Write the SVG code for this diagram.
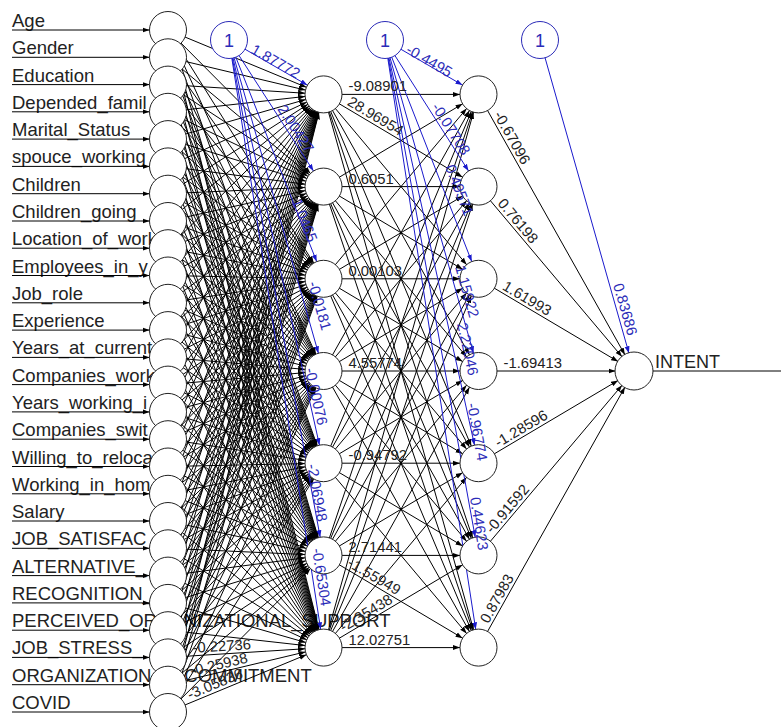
<svg xmlns="http://www.w3.org/2000/svg" width="781" height="727" viewBox="0 0 781 727">
<style>
.lbl{font-family:"Liberation Sans",Arial,sans-serif;font-size:18.5px;fill:#222}
.w{font-family:"Liberation Sans",Arial,sans-serif;font-size:14.8px;fill:#222}
.wb{font-family:"Liberation Sans",Arial,sans-serif;font-size:14.8px;fill:#2b2bb8}
.syn path{stroke:#000;stroke-width:1;fill:none;marker-end:url(#ah)}
.bsyn path{stroke:#1a1acc;stroke-width:1;fill:none;marker-end:url(#ab)}
.nd circle{fill:#fff;stroke:#222;stroke-width:1}
.bn circle{fill:#fff;stroke:#2b2bb8;stroke-width:1}
.bn text{font-family:"Liberation Sans",Arial,sans-serif;font-size:18px;fill:#2b2bb8;text-anchor:middle}
</style>
<defs>
<!-- arrowhead tip sits 18.5 units before the line end, i.e. on the target circle -->
<marker id="ah" viewBox="0 0 26 6" refX="25.5" refY="3" markerWidth="26" markerHeight="6" markerUnits="userSpaceOnUse" orient="auto"><path d="M0 0.5L7 3L0 5.5Z" fill="#000"/></marker>
<marker id="ab" viewBox="0 0 26 6" refX="25.5" refY="3" markerWidth="26" markerHeight="6" markerUnits="userSpaceOnUse" orient="auto"><path d="M0 0.5L7 3L0 5.5Z" fill="#1a1acc"/></marker>
</defs>
<rect width="781" height="727" fill="#fff"/>

<!-- input variable names (drawn first, lines and nodes cover them) -->
<g id="input-labels" class="lbl">
<text x="12" y="27">Age</text>
<text x="12" y="54.3">Gender</text>
<text x="12" y="81.6">Education</text>
<text x="12" y="108.8">Depended_famil</text>
<text x="12" y="136.1">Marital_Status</text>
<text x="12" y="163.4">spouce_working</text>
<text x="12" y="190.7">Children</text>
<text x="12" y="218">Children_going</text>
<text x="12" y="245.2">Location_of_work</text>
<text x="12" y="272.5">Employees_in_y</text>
<text x="12" y="299.8">Job_role</text>
<text x="12" y="327.1">Experience</text>
<text x="12" y="354.4">Years_at_current</text>
<text x="12" y="381.6">Companies_work</text>
<text x="12" y="408.9">Years_working_i</text>
<text x="12" y="436.2">Companies_swit</text>
<text x="12" y="463.5">Willing_to_reloca</text>
<text x="12" y="490.8">Working_in_hom</text>
<text x="12" y="518">Salary</text>
<text x="12" y="545.3">JOB_SATISFAC</text>
<text x="12" y="572.6">ALTERNATIVE_</text>
<text x="12" y="599.9">RECOGNITION_</text>
<text x="12" y="627.2">PERCEIVED_ORGANIZATIONAL_SUPPORT</text>
<text x="12" y="654.4">JOB_STRESS_</text>
<text x="12" y="681.7">ORGANIZATIONAL_COMMITMENT</text>
<text x="12" y="709">COVID</text>
</g>

<g id="connectors">
<g class="syn">
<!-- entry arrows -->
<path d="M12 30H168"/><path d="M12 57.3H168"/><path d="M12 84.6H168"/><path d="M12 111.8H168"/><path d="M12 139.1H168"/><path d="M12 166.4H168"/><path d="M12 193.7H168"/><path d="M12 221H168"/><path d="M12 248.2H168"/><path d="M12 275.5H168"/><path d="M12 302.8H168"/><path d="M12 330.1H168"/><path d="M12 357.4H168"/><path d="M12 384.6H168"/><path d="M12 411.9H168"/><path d="M12 439.2H168"/><path d="M12 466.5H168"/><path d="M12 493.8H168"/><path d="M12 521H168"/><path d="M12 548.3H168"/><path d="M12 575.6H168"/><path d="M12 602.9H168"/><path d="M12 630.2H168"/><path d="M12 657.4H168"/><path d="M12 684.7H168"/><path d="M12 712H168"/>
<!-- input layer to hidden layer 1 -->
<path d="M168 30L323.5 94.4"/><path d="M168 30L323.5 186.6"/><path d="M168 30L323.5 278.8"/><path d="M168 30L323.5 371"/><path d="M168 30L323.5 463.2"/><path d="M168 30L323.5 555.4"/><path d="M168 30L323.5 647.6"/>
<path d="M168 57.3L323.5 94.4"/><path d="M168 57.3L323.5 186.6"/><path d="M168 57.3L323.5 278.8"/><path d="M168 57.3L323.5 371"/><path d="M168 57.3L323.5 463.2"/><path d="M168 57.3L323.5 555.4"/><path d="M168 57.3L323.5 647.6"/>
<path d="M168 84.6L323.5 94.4"/><path d="M168 84.6L323.5 186.6"/><path d="M168 84.6L323.5 278.8"/><path d="M168 84.6L323.5 371"/><path d="M168 84.6L323.5 463.2"/><path d="M168 84.6L323.5 555.4"/><path d="M168 84.6L323.5 647.6"/>
<path d="M168 111.8L323.5 94.4"/><path d="M168 111.8L323.5 186.6"/><path d="M168 111.8L323.5 278.8"/><path d="M168 111.8L323.5 371"/><path d="M168 111.8L323.5 463.2"/><path d="M168 111.8L323.5 555.4"/><path d="M168 111.8L323.5 647.6"/>
<path d="M168 139.1L323.5 94.4"/><path d="M168 139.1L323.5 186.6"/><path d="M168 139.1L323.5 278.8"/><path d="M168 139.1L323.5 371"/><path d="M168 139.1L323.5 463.2"/><path d="M168 139.1L323.5 555.4"/><path d="M168 139.1L323.5 647.6"/>
<path d="M168 166.4L323.5 94.4"/><path d="M168 166.4L323.5 186.6"/><path d="M168 166.4L323.5 278.8"/><path d="M168 166.4L323.5 371"/><path d="M168 166.4L323.5 463.2"/><path d="M168 166.4L323.5 555.4"/><path d="M168 166.4L323.5 647.6"/>
<path d="M168 193.7L323.5 94.4"/><path d="M168 193.7L323.5 186.6"/><path d="M168 193.7L323.5 278.8"/><path d="M168 193.7L323.5 371"/><path d="M168 193.7L323.5 463.2"/><path d="M168 193.7L323.5 555.4"/><path d="M168 193.7L323.5 647.6"/>
<path d="M168 221L323.5 94.4"/><path d="M168 221L323.5 186.6"/><path d="M168 221L323.5 278.8"/><path d="M168 221L323.5 371"/><path d="M168 221L323.5 463.2"/><path d="M168 221L323.5 555.4"/><path d="M168 221L323.5 647.6"/>
<path d="M168 248.2L323.5 94.4"/><path d="M168 248.2L323.5 186.6"/><path d="M168 248.2L323.5 278.8"/><path d="M168 248.2L323.5 371"/><path d="M168 248.2L323.5 463.2"/><path d="M168 248.2L323.5 555.4"/><path d="M168 248.2L323.5 647.6"/>
<path d="M168 275.5L323.5 94.4"/><path d="M168 275.5L323.5 186.6"/><path d="M168 275.5L323.5 278.8"/><path d="M168 275.5L323.5 371"/><path d="M168 275.5L323.5 463.2"/><path d="M168 275.5L323.5 555.4"/><path d="M168 275.5L323.5 647.6"/>
<path d="M168 302.8L323.5 94.4"/><path d="M168 302.8L323.5 186.6"/><path d="M168 302.8L323.5 278.8"/><path d="M168 302.8L323.5 371"/><path d="M168 302.8L323.5 463.2"/><path d="M168 302.8L323.5 555.4"/><path d="M168 302.8L323.5 647.6"/>
<path d="M168 330.1L323.5 94.4"/><path d="M168 330.1L323.5 186.6"/><path d="M168 330.1L323.5 278.8"/><path d="M168 330.1L323.5 371"/><path d="M168 330.1L323.5 463.2"/><path d="M168 330.1L323.5 555.4"/><path d="M168 330.1L323.5 647.6"/>
<path d="M168 357.4L323.5 94.4"/><path d="M168 357.4L323.5 186.6"/><path d="M168 357.4L323.5 278.8"/><path d="M168 357.4L323.5 371"/><path d="M168 357.4L323.5 463.2"/><path d="M168 357.4L323.5 555.4"/><path d="M168 357.4L323.5 647.6"/>
<path d="M168 384.6L323.5 94.4"/><path d="M168 384.6L323.5 186.6"/><path d="M168 384.6L323.5 278.8"/><path d="M168 384.6L323.5 371"/><path d="M168 384.6L323.5 463.2"/><path d="M168 384.6L323.5 555.4"/><path d="M168 384.6L323.5 647.6"/>
<path d="M168 411.9L323.5 94.4"/><path d="M168 411.9L323.5 186.6"/><path d="M168 411.9L323.5 278.8"/><path d="M168 411.9L323.5 371"/><path d="M168 411.9L323.5 463.2"/><path d="M168 411.9L323.5 555.4"/><path d="M168 411.9L323.5 647.6"/>
<path d="M168 439.2L323.5 94.4"/><path d="M168 439.2L323.5 186.6"/><path d="M168 439.2L323.5 278.8"/><path d="M168 439.2L323.5 371"/><path d="M168 439.2L323.5 463.2"/><path d="M168 439.2L323.5 555.4"/><path d="M168 439.2L323.5 647.6"/>
<path d="M168 466.5L323.5 94.4"/><path d="M168 466.5L323.5 186.6"/><path d="M168 466.5L323.5 278.8"/><path d="M168 466.5L323.5 371"/><path d="M168 466.5L323.5 463.2"/><path d="M168 466.5L323.5 555.4"/><path d="M168 466.5L323.5 647.6"/>
<path d="M168 493.8L323.5 94.4"/><path d="M168 493.8L323.5 186.6"/><path d="M168 493.8L323.5 278.8"/><path d="M168 493.8L323.5 371"/><path d="M168 493.8L323.5 463.2"/><path d="M168 493.8L323.5 555.4"/><path d="M168 493.8L323.5 647.6"/>
<path d="M168 521L323.5 94.4"/><path d="M168 521L323.5 186.6"/><path d="M168 521L323.5 278.8"/><path d="M168 521L323.5 371"/><path d="M168 521L323.5 463.2"/><path d="M168 521L323.5 555.4"/><path d="M168 521L323.5 647.6"/>
<path d="M168 548.3L323.5 94.4"/><path d="M168 548.3L323.5 186.6"/><path d="M168 548.3L323.5 278.8"/><path d="M168 548.3L323.5 371"/><path d="M168 548.3L323.5 463.2"/><path d="M168 548.3L323.5 555.4"/><path d="M168 548.3L323.5 647.6"/>
<path d="M168 575.6L323.5 94.4"/><path d="M168 575.6L323.5 186.6"/><path d="M168 575.6L323.5 278.8"/><path d="M168 575.6L323.5 371"/><path d="M168 575.6L323.5 463.2"/><path d="M168 575.6L323.5 555.4"/><path d="M168 575.6L323.5 647.6"/>
<path d="M168 602.9L323.5 94.4"/><path d="M168 602.9L323.5 186.6"/><path d="M168 602.9L323.5 278.8"/><path d="M168 602.9L323.5 371"/><path d="M168 602.9L323.5 463.2"/><path d="M168 602.9L323.5 555.4"/><path d="M168 602.9L323.5 647.6"/>
<path d="M168 630.2L323.5 94.4"/><path d="M168 630.2L323.5 186.6"/><path d="M168 630.2L323.5 278.8"/><path d="M168 630.2L323.5 371"/><path d="M168 630.2L323.5 463.2"/><path d="M168 630.2L323.5 555.4"/><path d="M168 630.2L323.5 647.6"/>
<path d="M168 657.4L323.5 94.4"/><path d="M168 657.4L323.5 186.6"/><path d="M168 657.4L323.5 278.8"/><path d="M168 657.4L323.5 371"/><path d="M168 657.4L323.5 463.2"/><path d="M168 657.4L323.5 555.4"/><path d="M168 657.4L323.5 647.6"/>
<path d="M168 684.7L323.5 94.4"/><path d="M168 684.7L323.5 186.6"/><path d="M168 684.7L323.5 278.8"/><path d="M168 684.7L323.5 371"/><path d="M168 684.7L323.5 463.2"/><path d="M168 684.7L323.5 555.4"/><path d="M168 684.7L323.5 647.6"/>
<path d="M168 712L323.5 94.4"/><path d="M168 712L323.5 186.6"/><path d="M168 712L323.5 278.8"/><path d="M168 712L323.5 371"/><path d="M168 712L323.5 463.2"/><path d="M168 712L323.5 555.4"/><path d="M168 712L323.5 647.6"/>
<!-- hidden layer 1 to hidden layer 2 -->
<path d="M323.5 94.4L478.5 94.4"/><path d="M323.5 94.4L478.5 186.6"/><path d="M323.5 94.4L478.5 278.8"/><path d="M323.5 94.4L478.5 371"/><path d="M323.5 94.4L478.5 463.2"/><path d="M323.5 94.4L478.5 555.4"/><path d="M323.5 94.4L478.5 647.6"/>
<path d="M323.5 186.6L478.5 94.4"/><path d="M323.5 186.6L478.5 186.6"/><path d="M323.5 186.6L478.5 278.8"/><path d="M323.5 186.6L478.5 371"/><path d="M323.5 186.6L478.5 463.2"/><path d="M323.5 186.6L478.5 555.4"/><path d="M323.5 186.6L478.5 647.6"/>
<path d="M323.5 278.8L478.5 94.4"/><path d="M323.5 278.8L478.5 186.6"/><path d="M323.5 278.8L478.5 278.8"/><path d="M323.5 278.8L478.5 371"/><path d="M323.5 278.8L478.5 463.2"/><path d="M323.5 278.8L478.5 555.4"/><path d="M323.5 278.8L478.5 647.6"/>
<path d="M323.5 371L478.5 94.4"/><path d="M323.5 371L478.5 186.6"/><path d="M323.5 371L478.5 278.8"/><path d="M323.5 371L478.5 371"/><path d="M323.5 371L478.5 463.2"/><path d="M323.5 371L478.5 555.4"/><path d="M323.5 371L478.5 647.6"/>
<path d="M323.5 463.2L478.5 94.4"/><path d="M323.5 463.2L478.5 186.6"/><path d="M323.5 463.2L478.5 278.8"/><path d="M323.5 463.2L478.5 371"/><path d="M323.5 463.2L478.5 463.2"/><path d="M323.5 463.2L478.5 555.4"/><path d="M323.5 463.2L478.5 647.6"/>
<path d="M323.5 555.4L478.5 94.4"/><path d="M323.5 555.4L478.5 186.6"/><path d="M323.5 555.4L478.5 278.8"/><path d="M323.5 555.4L478.5 371"/><path d="M323.5 555.4L478.5 463.2"/><path d="M323.5 555.4L478.5 555.4"/><path d="M323.5 555.4L478.5 647.6"/>
<path d="M323.5 647.6L478.5 94.4"/><path d="M323.5 647.6L478.5 186.6"/><path d="M323.5 647.6L478.5 278.8"/><path d="M323.5 647.6L478.5 371"/><path d="M323.5 647.6L478.5 463.2"/><path d="M323.5 647.6L478.5 555.4"/><path d="M323.5 647.6L478.5 647.6"/>
<!-- hidden layer 2 to output -->
<path d="M478.5 94.4L634 371"/><path d="M478.5 186.6L634 371"/><path d="M478.5 278.8L634 371"/><path d="M478.5 371L634 371"/><path d="M478.5 463.2L634 371"/><path d="M478.5 555.4L634 371"/><path d="M478.5 647.6L634 371"/>
</g>
<path d="M652.5 371H781" stroke="#000" stroke-width="1"/>
<!-- bias synapses -->
<g class="bsyn">
<path d="M229 40L323.5 94.4"/><path d="M229 40L323.5 186.6"/><path d="M229 40L323.5 278.8"/><path d="M229 40L323.5 371"/><path d="M229 40L323.5 463.2"/><path d="M229 40L323.5 555.4"/><path d="M229 40L323.5 647.6"/>
<path d="M385 40L478.5 94.4"/><path d="M385 40L478.5 186.6"/><path d="M385 40L478.5 278.8"/><path d="M385 40L478.5 371"/><path d="M385 40L478.5 463.2"/><path d="M385 40L478.5 555.4"/><path d="M385 40L478.5 647.6"/>
<path d="M540 40L634 371"/>
</g>
</g>

<!-- input nodes -->
<g class="nd">
<g id="in-age"><circle cx="168" cy="30" r="18.5"/></g>
<g id="in-gender"><circle cx="168" cy="57.3" r="18.5"/></g>
<g id="in-education"><circle cx="168" cy="84.6" r="18.5"/></g>
<g id="in-depended"><circle cx="168" cy="111.8" r="18.5"/></g>
<g id="in-marital"><circle cx="168" cy="139.1" r="18.5"/></g>
<g id="in-spouce"><circle cx="168" cy="166.4" r="18.5"/></g>
<g id="in-children"><circle cx="168" cy="193.7" r="18.5"/></g>
<g id="in-children-going"><circle cx="168" cy="221" r="18.5"/></g>
<g id="in-location"><circle cx="168" cy="248.2" r="18.5"/></g>
<g id="in-employees"><circle cx="168" cy="275.5" r="18.5"/></g>
<g id="in-job-role"><circle cx="168" cy="302.8" r="18.5"/></g>
<g id="in-experience"><circle cx="168" cy="330.1" r="18.5"/></g>
<g id="in-years-current"><circle cx="168" cy="357.4" r="18.5"/></g>
<g id="in-companies-worked"><circle cx="168" cy="384.6" r="18.5"/></g>
<g id="in-years-working"><circle cx="168" cy="411.9" r="18.5"/></g>
<g id="in-companies-switched"><circle cx="168" cy="439.2" r="18.5"/></g>
<g id="in-relocate"><circle cx="168" cy="466.5" r="18.5"/></g>
<g id="in-home"><circle cx="168" cy="493.8" r="18.5"/></g>
<g id="in-salary"><circle cx="168" cy="521" r="18.5"/></g>
<g id="in-satisfaction"><circle cx="168" cy="548.3" r="18.5"/></g>
<g id="in-alternative"><circle cx="168" cy="575.6" r="18.5"/></g>
<g id="in-recognition"><circle cx="168" cy="602.9" r="18.5"/></g>
<g id="in-support"><circle cx="168" cy="630.2" r="18.5"/></g>
<g id="in-stress"><circle cx="168" cy="657.4" r="18.5"/></g>
<g id="in-commitment"><circle cx="168" cy="684.7" r="18.5"/></g>
<g id="in-covid"><circle cx="168" cy="712" r="18.5"/></g>
<!-- hidden layer 1 -->
<g id="h1-1"><circle cx="323.5" cy="94.4" r="18.5"/></g>
<g id="h1-2"><circle cx="323.5" cy="186.6" r="18.5"/></g>
<g id="h1-3"><circle cx="323.5" cy="278.8" r="18.5"/></g>
<g id="h1-4"><circle cx="323.5" cy="371" r="18.5"/></g>
<g id="h1-5"><circle cx="323.5" cy="463.2" r="18.5"/></g>
<g id="h1-6"><circle cx="323.5" cy="555.4" r="18.5"/></g>
<g id="h1-7"><circle cx="323.5" cy="647.6" r="18.5"/></g>
<!-- hidden layer 2 -->
<g id="h2-1"><circle cx="478.5" cy="94.4" r="18.5"/></g>
<g id="h2-2"><circle cx="478.5" cy="186.6" r="18.5"/></g>
<g id="h2-3"><circle cx="478.5" cy="278.8" r="18.5"/></g>
<g id="h2-4"><circle cx="478.5" cy="371" r="18.5"/></g>
<g id="h2-5"><circle cx="478.5" cy="463.2" r="18.5"/></g>
<g id="h2-6"><circle cx="478.5" cy="555.4" r="18.5"/></g>
<g id="h2-7"><circle cx="478.5" cy="647.6" r="18.5"/></g>
<!-- output -->
<g id="out-intent"><circle cx="634" cy="371" r="19"/><text x="655" y="368" class="lbl" style="font-size:18px">INTENT</text></g>
</g>

<!-- bias nodes -->
<g class="bn">
<g id="bias-1"><circle cx="229" cy="40" r="18.5"/><text x="229" y="47">1</text></g>
<g id="bias-2"><circle cx="385" cy="40" r="18.5"/><text x="385" y="47">1</text></g>
<g id="bias-3"><circle cx="540" cy="40" r="18.5"/><text x="540" y="47">1</text></g>
</g>

<!-- weight values, written along their synapses on top of everything -->
<g id="weights">
<g class="w">
<text transform="translate(193 655.8) rotate(-3.6)" y="-3">-0.22736</text>
<text transform="translate(192.3 678.9) rotate(-13.42)" y="-3">-0.25938</text>
<text transform="translate(191.1 702.4) rotate(-22.5)" y="-3">-3.05836</text>
<text transform="translate(348.5 94.4)" y="-3">-9.08901</text>
<text transform="translate(345 107.2) rotate(30.75)" y="-3">28.96954</text>
<text transform="translate(348.5 186.6)" y="-3">0.6051</text>
<text transform="translate(348.5 278.8)" y="-3">0.00103</text>
<text transform="translate(348.5 371)" y="-3">4.55774</text>
<text transform="translate(348.5 463.2)" y="-3">-0.94792</text>
<text transform="translate(348.5 555.4)" y="-3">2.71441</text>
<text transform="translate(348.5 647.6)" y="-3">12.02751</text>
<text transform="translate(345 568.2) rotate(30.75)" y="-3">-1.55949</text>
<text transform="translate(345 634.8) rotate(-30.75)" y="-3">-2.35438</text>
<text transform="translate(490.8 116.2) rotate(60.65)" y="-3">-0.67096</text>
<text transform="translate(494.6 205.7) rotate(49.86)" y="-3">0.76198</text>
<text transform="translate(500 291.6) rotate(30.66)" y="-3">1.61993</text>
<text transform="translate(503.5 371)" y="-3">-1.69413</text>
<text transform="translate(500 450.4) rotate(-30.66)" y="-3">-1.28596</text>
<text transform="translate(494.6 536.3) rotate(-49.86)" y="-3">-0.91592</text>
<text transform="translate(490.8 625.8) rotate(-60.65)" y="-3">0.87983</text>
</g>
<g class="wb">
<text transform="translate(250 52.5) rotate(29.93)">1.87772</text>
<text transform="translate(277 109) rotate(57.2)">2.00427</text>
<text transform="translate(291.5 201) rotate(68.4)">1.0465</text>
<text transform="translate(308 283) rotate(74.1)">-0.0181</text>
<text transform="translate(305 369) rotate(77.4)">-0.00076</text>
<text transform="translate(307 465) rotate(79.6)">-2.06948</text>
<text transform="translate(312 549) rotate(81.2)">-0.65304</text>
<text transform="translate(405 52.5) rotate(30.2)">-0.4495</text>
<text transform="translate(431 107) rotate(57.5)">-0.07708</text>
<text transform="translate(445 167) rotate(68.6)">0.49571</text>
<text transform="translate(455 267) rotate(74.2)">1.15922</text>
<text transform="translate(457 324) rotate(77.5)">2.22046</text>
<text transform="translate(467 404) rotate(79.7)">-0.96774</text>
<text transform="translate(470 498) rotate(81.2)">0.44623</text>
<text transform="translate(613 285) rotate(74.1)">0.83686</text>
</g>
</g>
</svg>
